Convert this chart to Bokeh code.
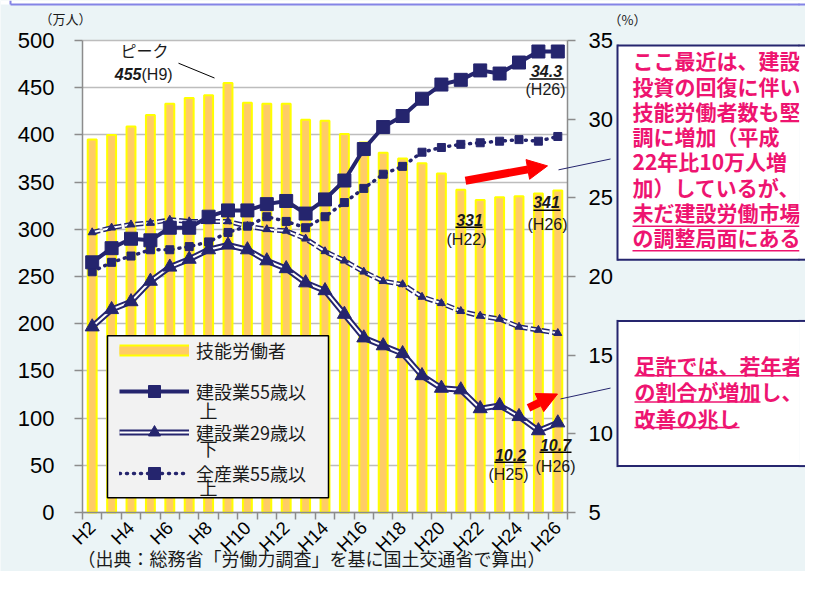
from bokeh.plotting import figure
from bokeh.models import (Range1d, LinearAxis, FixedTicker, Label, BoxAnnotation,
                          Arrow, NormalHead, Legend, LegendItem, Grid)
from bokeh.embed import file_html
from bokeh.resources import INLINE

# ---------------- data ----------------
years = ["H2", "H3", "H4", "H5", "H6", "H7", "H8", "H9", "H10", "H11", "H12", "H13", "H14",
         "H15", "H16", "H17", "H18", "H19", "H20", "H21", "H22", "H23", "H24", "H25", "H26"]
tick_years = ["H2", "H4", "H6", "H8", "H10", "H12", "H14", "H16", "H18", "H20", "H22", "H24", "H26"]
# 技能労働者 (万人)
workers = [395, 400, 409, 421, 433, 439, 442, 455, 434, 433, 433, 416, 415,
           401, 392, 381, 375, 370, 359, 342, 331, 334, 335, 338, 341]
# 建設業55歳以上 (%)
con55 = [20.9, 21.8, 22.4, 22.3, 23.1, 23.1, 23.8, 24.2, 24.2, 24.6, 24.8, 24.0, 24.9,
         26.1, 28.1, 29.5, 30.2, 31.3, 32.2, 32.5, 33.1, 32.9, 33.6, 34.3, 34.3]
# 建設業29歳以下 (%)
con29 = [16.8, 17.9, 18.4, 19.7, 20.6, 21.1, 21.7, 22.0, 21.7, 21.0, 20.5, 19.6, 19.1,
         17.6, 16.1, 15.6, 15.1, 13.7, 12.9, 12.8, 11.6, 11.8, 11.1, 10.2, 10.7]
# 全産業55歳以上 (%)
all55 = [20.3, 20.9, 21.3, 21.7, 21.7, 21.9, 22.2, 22.8, 23.2, 23.8, 23.5, 23.1, 23.8,
         24.7, 25.6, 26.5, 27.0, 27.9, 28.2, 28.4, 28.5, 28.6, 28.7, 28.6, 28.9]
# 全産業29歳以下 (%)
all29 = [22.8, 23.1, 23.3, 23.4, 23.6, 23.5, 23.5, 23.5, 23.2, 23.0, 22.9, 22.4, 21.6,
         21.0, 20.3, 19.7, 19.5, 18.7, 18.3, 17.8, 17.5, 17.3, 16.8, 16.6, 16.4]
left_ticks = [0, 50, 100, 150, 200, 250, 300, 350, 400, 450, 500]
right_ticks = [5, 10, 15, 20, 25, 30, 35]

xs = list(range(len(years)))
N = len(years)

NAVY = "#25256E"
PINK = "#EE1470"
BG = "#EBF4F6"
JP = "Noto Sans CJK JP"
LAT = "Liberation Sans"

# canvas / plot-area geometry (pixels)
W, H = 805, 571
PL, PR, PT, PB = 82, 567, 40, 512
px = (PR - PL) / N
ppu_l = (PB - PT) / 500.0
ppu_r = (PB - PT) / 30.0


def Y(yref):
    """map a reference-picture y pixel to this canvas (slightly compressed vertically)"""
    return PT + (yref - 40) * (PB - PT) / 478.0


p = figure(width=W, height=H,
           x_range=Range1d(-0.5 - PL / px, N - 0.5 + (W - PR) / px),
           y_range=Range1d(-(H - PB) / ppu_l, 500 + PT / ppu_l),
           x_axis_type=None, y_axis_type=None,
           output_backend="svg", toolbar_location=None,
           min_border=0, min_border_left=0, min_border_right=0,
           min_border_top=0, min_border_bottom=0,
           background_fill_color=BG, border_fill_color=BG, outline_line_color=None)
p.extra_y_ranges = {"pct": Range1d(5 - (H - PB) / ppu_r, 35 + PT / ppu_r)}


def seg(x0, y0, x1, y1, color, width, level="annotation"):
    p.add_layout(Arrow(end=None, x_start=x0, y_start=y0, x_end=x1, y_end=y1,
                       start_units="canvas", end_units="canvas",
                       line_color=color, line_width=width, level=level))


def cbox(left, right, top, bottom, fill, level="annotation"):
    p.add_layout(BoxAnnotation(left=left, right=right, top=top, bottom=bottom,
                               left_units="canvas", right_units="canvas",
                               top_units="canvas", bottom_units="canvas",
                               fill_color=fill, fill_alpha=1, line_color=None, level=level))


EDGE = W  # right edge of the canvas
BOXES = [(45, 262), (324, 471)]

# slide frame remnant at the very top
cbox(0, EDGE, 0, 4, "white", level="underlay")

# white plot area
p.add_layout(BoxAnnotation(left=-0.5, right=N - 0.5, bottom=0, top=500,
                           fill_color="white", fill_alpha=1, line_color=None, level="underlay"))

# horizontal grid
grid = Grid(dimension=1, ticker=FixedTicker(ticks=left_ticks), bounds=(0, 500),
            cross_bounds=(-0.5, N - 0.5), grid_line_color="#BDBDBD", grid_line_width=1.5)
p.add_layout(grid)

# ---------------- glyphs ----------------
p.vbar(x=xs, top=workers, width=0.46, fill_color="#FFCC66", line_color="#FFFF00", line_width=2)

# 全産業29歳以下 (dashed double line, small triangles)
p.line(xs, all29, y_range_name="pct", line_color=NAVY, line_width=5, line_dash="8 3")
p.line(xs, all29, y_range_name="pct", line_color="white", line_width=2, line_dash="8 3")
p.scatter(xs, all29, y_range_name="pct", marker="triangle", size=8, fill_color=NAVY, line_color=NAVY)

# 全産業55歳以上 (dotted, small squares)
l_all55 = p.line(xs, all55, y_range_name="pct", line_color=NAVY, line_width=3.5,
                 line_dash="1 6", line_cap="round")
s_all55 = p.scatter(xs, all55, y_range_name="pct", marker="square", size=8,
                    fill_color=NAVY, line_color=NAVY)

# 建設業29歳以下 (double line, triangles)
l29a = p.line(xs, con29, y_range_name="pct", line_color=NAVY, line_width=6)
l29b = p.line(xs, con29, y_range_name="pct", line_color="white", line_width=2)
s29 = p.scatter(xs, con29, y_range_name="pct", marker="triangle", size=14,
                fill_color=NAVY, line_color=NAVY)

# 建設業55歳以上 (solid, squares)
l55 = p.line(xs, con55, y_range_name="pct", line_color=NAVY, line_width=4)
s55 = p.scatter(xs, con55, y_range_name="pct", marker="square", size=13,
                fill_color=NAVY, line_color=NAVY)

# legend proxies for the bar swatch (not drawn in the plot)
nan = float("nan")
bar_a = p.line([0, 1], [nan, nan], line_color="#FFFF00", line_width=12)
bar_b = p.line([0, 1], [nan, nan], line_color="#FFCC66", line_width=8)

# ---------------- axes (fixed to the plot-area edges) ----------------
ya = LinearAxis(fixed_location=-0.5, bounds=(0, 500), ticker=FixedTicker(ticks=left_ticks))
ya.axis_line_color = "#8C8C8C"
ya.axis_line_width = 1.5
ya.major_tick_line_color = "#8C8C8C"
ya.major_tick_line_width = 1.5
ya.major_tick_out = 8
ya.major_tick_in = 0
ya.minor_tick_line_color = None
ya.major_label_text_font = LAT
ya.major_label_text_font_size = "22px"
ya.major_label_text_color = "black"
ya.major_label_standoff = 20
p.add_layout(ya, "left")

tick_pos = [years.index(t) for t in tick_years]
xa = LinearAxis(fixed_location=0, bounds=(-0.5, N - 0.5),
                ticker=FixedTicker(ticks=tick_pos, minor_ticks=[i - 0.5 for i in range(N + 1)]))
xa.major_label_overrides = {pos: lab for pos, lab in zip(tick_pos, tick_years)}
xa.major_tick_line_color = None
xa.minor_tick_line_color = "#8C8C8C"
xa.minor_tick_line_width = 1.5
xa.minor_tick_out = 7
xa.minor_tick_in = 0
xa.axis_line_color = "#8C8C8C"
xa.axis_line_width = 1.5
xa.major_label_orientation = 0.785398
xa.major_label_text_font = LAT
xa.major_label_text_font_size = "18.5px"
xa.major_label_text_color = "black"
xa.major_label_standoff = 5
p.add_layout(xa, "below")

ra = LinearAxis(y_range_name="pct", fixed_location=N - 0.5, bounds=(5, 35),
                ticker=FixedTicker(ticks=right_ticks))
ra.axis_line_color = "#8C8C8C"
ra.axis_line_width = 1.5
ra.major_tick_line_color = "#8C8C8C"
ra.major_tick_line_width = 1.5
ra.major_tick_out = 8
ra.major_tick_in = 0
ra.minor_tick_line_color = None
ra.major_label_text_font = LAT
ra.major_label_text_font_size = "22px"
ra.major_label_text_color = "black"
ra.major_label_standoff = 13
p.add_layout(ra, "right")

# top slide-frame line
seg(10, 4, EDGE, 4, "#8484E6", 2)
seg(10, 0, 10, 4, "#8484E6", 2)

# ---------------- legend ----------------
p.add_layout(BoxAnnotation(left=107, right=328, top=Y(339), bottom=Y(503),
                           left_units="canvas", right_units="canvas",
                           top_units="canvas", bottom_units="canvas",
                           fill_color="#F2F2F2", fill_alpha=1, line_color="black", line_width=1.5,
                           line_alpha=1))
leg_top = Y(350) - 19
leg_bottom = leg_top + 2 * 4 + 4 * 30 + 3 * 11
legend = Legend(items=[
    LegendItem(label="技能労働者", renderers=[bar_a, bar_b]),
    LegendItem(label="建設業55歳以", renderers=[l55, s55]),
    LegendItem(label="建設業29歳以", renderers=[l29a, l29b, s29]),
    LegendItem(label="全産業55歳以", renderers=[l_all55, s_all55]),
], location=(119, H - leg_bottom), padding=4, spacing=11, glyph_width=70, glyph_height=30,
    label_height=30, label_standoff=7, background_fill_alpha=0, border_line_color=None,
    label_text_font=JP, label_text_font_size="18px", label_text_color="#1a1a1a")
p.add_layout(legend, "center")


def lab(x, y, text, size="16px", font=LAT, style="normal", color="#1a1a1a",
        align="center", baseline="middle"):
    p.add_layout(Label(x=x, y=y, x_units="canvas", y_units="canvas", text=text,
                       text_font=font, text_font_size=size, text_font_style=style,
                       text_color=color, text_align=align, text_baseline=baseline))


# wrapped legend tails
lab(199, Y(414), "上", size="18px", font=JP, align="left")
lab(199, Y(453), "下", size="18px", font=JP, align="left")
lab(199, Y(492), "上", size="18px", font=JP, align="left")

# axis unit labels
lab(65, 18, "（万人）", size="13px", font=JP)
lab(627, 19, "（%）", size="13px", font=JP)

# peak annotation
lab(144, Y(50), "ピーク", size="16px", font=JP)
lab(141, Y(74), "455", style="bold italic", align="right")
lab(141, Y(74), "(H9)", align="left")
seg(178, Y(63), 214, Y(78), "black", 1)

# value annotations
lab(546, Y(71), "34.3", style="bold italic")
seg(529, Y(79), 563, Y(79), "black", 1.5)
lab(545, Y(90), "(H26)")
lab(469, Y(222), "331", style="bold italic")
seg(455, Y(229), 482, Y(229), "black", 1.5)
lab(466, Y(242), "(H22)")
lab(546, Y(204), "341", style="bold italic")
seg(533, Y(212), 560, Y(212), "black", 1.5)
lab(547, Y(226), "(H26)")
lab(510, Y(460), "10.2", style="bold italic")
seg(494, Y(467), 526, Y(467), "black", 1.5)
lab(508, Y(480), "(H25)")
lab(555, Y(450), "10.7", style="bold italic")
seg(539, Y(457), 571, Y(457), "black", 1.5)
lab(555, Y(471), "(H26)")

# red arrows
for (x0, y0, x1, y1) in [(465, 182, 547, 167), (528, 412, 557, 398)]:
    p.add_layout(Arrow(x_start=x0, y_start=Y(y0), x_end=x1, y_end=Y(y1),
                       start_units="canvas", end_units="canvas",
                       line_color="#FF0000", line_width=8,
                       end=NormalHead(size=20, fill_color="#FF0000", line_color="#FF0000")))

# connector lines
seg(558, Y(171), 610, Y(160), NAVY, 1)
seg(560, Y(403), 610, Y(392), NAVY, 1)

# callout boxes (right side runs off the picture, so only three edges are drawn)
for (t, b) in BOXES:
    cbox(617, EDGE, Y(t), Y(b), "white")
    seg(617, Y(t), EDGE, Y(t), NAVY, 2)
    seg(617, Y(b), EDGE, Y(b), NAVY, 2)
    seg(617, Y(t) - 1, 617, Y(b) + 1, NAVY, 2)

box1 = ["ここ最近は、建設", "投資の回復に伴い", "技能労働者数も堅", "調に増加（平成",
        "22年比10万人増", "加）しているが、", "未だ建設労働市場", "の調整局面にある"]
for i, t in enumerate(box1):
    lab(632, Y(60 + i * 25.6), t, size="21px", font=JP, style="bold", color=PINK, align="left")
seg(632, Y(228), 800, Y(228), PINK, 1.5)
seg(632, Y(253), 800, Y(253), PINK, 1.5)

box2 = ["足許では、若年者", "の割合が増加し、", "改善の兆し"]
for i, t in enumerate(box2):
    lab(634, Y(368.5 + i * 26.8), t, size="21px", font=JP, style="bold", color=PINK, align="left")
seg(634, Y(379.5), 802, Y(379.5), PINK, 1.5)
seg(634, Y(406), 760, Y(406), PINK, 1.5)
seg(634, Y(432), 739, Y(432), PINK, 1.5)

# source
lab(311, 557, "（出典：総務省「労働力調査」を基に国土交通省で算出）", size="18px", font=JP)

# cover strip along the right canvas edge (hides a stray edge line)
STRIP = 6
cbox(EDGE - STRIP, EDGE + 5, 4, H + 5, BG, level="overlay")
cbox(EDGE - STRIP, EDGE + 5, -5, 3.5, "white", level="overlay")
for (t, b) in BOXES:
    cbox(EDGE - STRIP, EDGE + 5, Y(t), Y(b), "white", level="overlay")
    seg(EDGE - STRIP - 1, Y(t), EDGE + 5, Y(t), NAVY, 2, level="overlay")
    seg(EDGE - STRIP - 1, Y(b), EDGE + 5, Y(b), NAVY, 2, level="overlay")
seg(EDGE - STRIP - 1, 4, EDGE + 5, 4, "#8484E6", 2, level="overlay")

open("out.html", "w").write(file_html(p, INLINE))
